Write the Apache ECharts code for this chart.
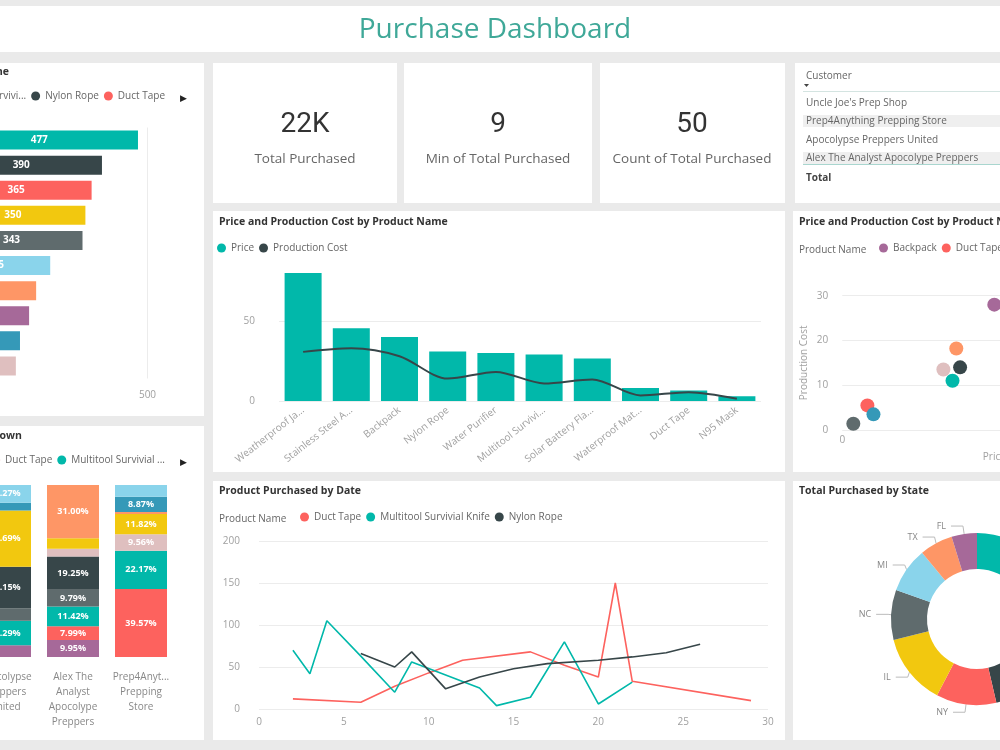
<!DOCTYPE html>
<html>
<head>
<meta charset="utf-8">
<title>Purchase Dashboard</title>
<script src="https://cdn.jsdelivr.net/npm/echarts@6/dist/echarts.min.js"></script>
<style>
  body { margin: 0; background: #eaeaea; }
  #wrap { position: relative; width: 1000px; height: 750px; overflow: hidden; background: #eaeaea; }
  .panel { position: absolute; background: #fff; }
  #chart { position: absolute; left: 0; top: 0; width: 1000px; height: 750px; }
</style>
</head>
<body>
<div id="wrap">
  <!-- tile backgrounds -->
  <div class="panel" style="left:0;top:6px;width:1000px;height:46px"></div>
  <div class="panel" style="left:0;top:63px;width:204px;height:353px"></div>
  <div class="panel" style="left:0;top:426px;width:204px;height:314px"></div>
  <div class="panel" style="left:213px;top:63px;width:184px;height:140px"></div>
  <div class="panel" style="left:404px;top:63px;width:188px;height:140px"></div>
  <div class="panel" style="left:600px;top:63px;width:185px;height:140px"></div>
  <div class="panel" style="left:795px;top:63px;width:205px;height:140px"></div>
  <div class="panel" style="left:213px;top:211px;width:572px;height:261px"></div>
  <div class="panel" style="left:213px;top:481px;width:572px;height:259px"></div>
  <div class="panel" style="left:793px;top:211px;width:207px;height:261px"></div>
  <div class="panel" style="left:793px;top:481px;width:207px;height:259px"></div>
  <div id="chart"></div>
</div>
<script>
// ---- data ----
// Total Purchased by Product Name (top to bottom)
const byProductNames = ['Multitool Survivial Knife', 'Nylon Rope', 'Duct Tape', 'Stainless Steel Axe', 'N95 Mask',
  'Weatherproof Jacket', 'Water Purifier', 'Backpack', 'Waterproof Matches', 'Solar Battery Flashlight'];
const byProductTotals = [477, 390, 365, 350, 343, 265, 231, 214, 192, 182];

// share of each product in a customer's purchases (%), rows follow stackProducts, columns follow customers
const customers = ["Uncle Joe's Prep Shop", 'Apocolypse Preppers United', 'Alex The Analyst Apocolype Preppers', 'Prep4Anything Prepping Store'];
const customerLabels = ["Uncle Joe's\nPrep Shop", 'Apocolypse\nPreppers\nUnited', 'Alex The\nAnalyst\nApocolype\nPreppers', 'Prep4Anyt...\nPrepping\nStore'];
const stackProducts = ['Backpack', 'Duct Tape', 'Multitool Survivial Knife', 'N95 Mask', 'Nylon Rope',
  'Solar Battery Flashlight', 'Stainless Steel Axe', 'Water Purifier', 'Waterproof Matches', 'Weatherproof Jacket'];
const sharePct = [
  [10.20, 6.83, 9.95, 0],
  [12.40, 0, 7.99, 39.57],
  [17.80, 14.29, 11.42, 22.17],
  [8.10, 7.21, 9.79, 0],
  [15.30, 24.15, 19.25, 0],
  [7.00, 0, 4.60, 9.56],
  [9.60, 32.69, 6.00, 11.82],
  [8.20, 0, 31.00, 1.21],
  [6.10, 4.56, 0, 8.87],
  [5.30, 10.27, 0, 6.80]
];

// Price and Production Cost by Product Name
const priceProducts = ['Weatherproof Jacket', 'Stainless Steel Axe', 'Backpack', 'Nylon Rope', 'Water Purifier',
  'Multitool Survivial Knife', 'Solar Battery Flashlight', 'Waterproof Matches', 'Duct Tape', 'N95 Mask'];
const priceLabels = ['Weatherproof Ja...', 'Stainless Steel A...', 'Backpack', 'Nylon Rope', 'Water Purifier',
  'Multitool Survivi...', 'Solar Battery Fla...', 'Waterproof Mat...', 'Duct Tape', 'N95 Mask'];
const price = [80, 45.5, 40, 31, 30, 29, 26.6, 8.2, 6.6, 2.9];
const productionCost = [30.7, 33, 28, 14, 18.2, 11, 13.5, 3.5, 5.5, 1.4];

// Product Purchased by Date  [day, quantity]
const ductTapeByDate = [[2, 12], [6, 8], [8, 27], [10, 43], [12, 58], [16, 68], [18, 52], [20, 38], [21, 150], [22, 33], [29, 10]];
const multitoolByDate = [[2, 70], [3, 42], [4, 105], [6, 63], [8, 20], [9, 56], [13, 25], [14, 4], [16, 14], [18, 80], [20, 6], [22, 32]];
const nylonRopeByDate = [[6, 66], [8, 50], [9, 68], [11, 24], [13, 38], [15, 48], [17, 54], [20, 58], [22, 62], [24, 67], [26, 77]];

// Total Purchased by State
const states = ['CA', 'OH', 'NY', 'IL', 'NC', 'MI', 'TX', 'FL'];
const stateTotals = [5630, 4580, 2490, 2950, 2070, 1870, 1375, 1050];

// cards and table
const kpiValues = ['22K', '9', '50'];
const kpiLabels = ['Total Purchased', 'Min of Total Purchased', 'Count of Total Purchased'];
const tableRows = ["Uncle Joe's Prep Shop", 'Prep4Anything Prepping Store', 'Apocolypse Preppers United', 'Alex The Analyst Apocolype Preppers'];

// ---- styles ----
const FONT = '"Open Sans", "Noto Sans", sans-serif';
const productColors = {
  'Backpack': '#A66999',
  'Duct Tape': '#FD625E',
  'Multitool Survivial Knife': '#01B8AA',
  'N95 Mask': '#5F6B6D',
  'Nylon Rope': '#374649',
  'Solar Battery Flashlight': '#DFBFBF',
  'Stainless Steel Axe': '#F2C80F',
  'Water Purifier': '#FE9666',
  'Waterproof Matches': '#3599B8',
  'Weatherproof Jacket': '#8AD4EB'
};
const stateColors = ['#01B8AA', '#374649', '#FD625E', '#F2C80F', '#5F6B6D', '#8AD4EB', '#FE9666', '#A66999'];
const labelGray = '#a0a0a0';
const splitGray = '#ececec';

const chart = echarts.init(document.getElementById('chart'));

const series = [];

// horizontal bars, one series per product so the legend can list them
byProductNames.forEach((name, i) => {
  series.push({
    name: name, type: 'bar', xAxisIndex: 0, yAxisIndex: 0, stack: 'byProduct',
    barWidth: 19,
    data: byProductTotals.map((v, j) => (j === i ? v : '-')),
    itemStyle: { color: productColors[name] },
    label: { show: true, position: 'inside', color: '#fff', fontSize: 10, fontWeight: 'bold' }
  });
});

// 100% stacked columns
stackProducts.forEach((name, i) => {
  series.push({
    name: name, type: 'bar', xAxisIndex: 1, yAxisIndex: 1, stack: 'share',
    barWidth: 52,
    data: sharePct[i],
    itemStyle: { color: productColors[name] },
    label: {
      show: true, position: 'inside', color: '#fff', fontSize: 9, fontWeight: 'bold',
      formatter: p => (p.value >= 7.5 ? p.value.toFixed(2) + '%' : '')
    }
  });
});

// price bars + production cost line
series.push({
  name: 'Price', type: 'bar', xAxisIndex: 2, yAxisIndex: 2, barWidth: 37,
  data: price, itemStyle: { color: '#01B8AA' }
});
series.push({
  name: 'Production Cost', type: 'line', xAxisIndex: 2, yAxisIndex: 2,
  data: productionCost, symbol: 'none', smooth: 0.3,
  lineStyle: { color: '#374649', width: 2 }, itemStyle: { color: '#374649' }
});

// purchases by date
[['Duct Tape', ductTapeByDate], ['Multitool Survivial Knife', multitoolByDate], ['Nylon Rope', nylonRopeByDate]]
  .forEach(([name, pts]) => {
    series.push({
      name: name, type: 'line', xAxisIndex: 3, yAxisIndex: 3, data: pts,
      symbol: 'none', lineStyle: { color: productColors[name], width: 1.6 },
      itemStyle: { color: productColors[name] }
    });
  });

// scatter price vs cost, one series per product
stackProducts.forEach(name => {
  const k = priceProducts.indexOf(name);
  series.push({
    name: name, type: 'scatter', xAxisIndex: 4, yAxisIndex: 4,
    symbolSize: 14, data: [[price[k], productionCost[k]]],
    itemStyle: { color: productColors[name], opacity: 1 }
  });
});

// donut by state
series.push({
  type: 'pie', name: 'Total Purchased by State',
  center: [977, 619], radius: [50, 86], startAngle: 90, clockwise: true,
  data: states.map((s, i) => ({ name: s, value: stateTotals[i], itemStyle: { color: stateColors[i] } })),
  label: { color: '#888', fontSize: 9, fontFamily: FONT },
  labelLine: { length: 8, length2: 12, lineStyle: { color: '#bbb', width: 1 } }
});

const hidden = { show: false };
const legendBase = {
  icon: 'circle', itemWidth: 9, itemHeight: 9, itemGap: 5, padding: 0, width: 1200,
  textStyle: { color: '#666', fontSize: 10, fontFamily: FONT }
};

const text = (x, y, str, font, fill, align) => ({
  type: 'text', x: x, y: y, silent: true,
  style: { text: str, font: font, fill: fill, align: align || 'left', textAlign: align || 'left',
    verticalAlign: 'middle', textVerticalAlign: 'middle' }
});
const titleFont = 'bold 10.5px ' + FONT;

const graphic = [
  text(495, 30, 'Purchase Dashboard', '28px ' + FONT, '#3fa898', 'center'),
  text(9, 72, 'Total Purchased by Product Name', titleFont, '#333', 'right'),
  text(22, 436, 'Product Breakdown', titleFont, '#333', 'right'),
  text(219, 222, 'Price and Production Cost by Product Name', titleFont, '#333'),
  text(219, 491, 'Product Purchased by Date', titleFont, '#333'),
  text(799, 222, 'Price and Production Cost by Product Name', titleFont, '#333'),
  text(799, 491, 'Total Purchased by State', titleFont, '#333'),
  text(219, 519, 'Product Name', '10px ' + FONT, '#666'),
  text(799, 250, 'Product Name', '10px ' + FONT, '#666'),
  text(183, 98, '\u25B6', '9px ' + FONT, '#222', 'center'),
  text(183, 462, '\u25B6', '9px ' + FONT, '#222', 'center'),
  // table
  { type: 'rect', shape: { x: 803, y: 115, width: 197, height: 12 }, style: { fill: '#efefef' }, silent: true },
  { type: 'rect', shape: { x: 803, y: 152, width: 197, height: 12 }, style: { fill: '#efefef' }, silent: true },
  { type: 'rect', shape: { x: 803, y: 91, width: 197, height: 1 }, style: { fill: '#d4e4e1' }, silent: true },
  { type: 'rect', shape: { x: 803, y: 164, width: 197, height: 1 }, style: { fill: '#a9d6cf' }, silent: true },
  text(806, 76, 'Customer', '10px ' + FONT, '#666'),
  { type: 'polygon', shape: { points: [[804, 84], [809, 84], [806.5, 87]] }, style: { fill: '#444' }, silent: true },
  text(806, 178, 'Total', 'bold 10px ' + FONT, '#444')
];
tableRows.forEach((r, i) => {
  graphic.push(text(806, [103, 121, 140, 158][i], r, '10px ' + FONT, '#666'));
});
[305, 498, 692].forEach((cx, i) => {
  graphic.push(text(cx, 125, kpiValues[i], '28px Roboto, ' + FONT, '#333', 'center'));
  graphic.push(text(cx, 159, kpiLabels[i], '13.5px ' + FONT, '#666', 'center'));
});

// grids are placed by hand, so keep ECharts from pulling them inside the canvas
const freeGrid = g => Object.assign({ containLabel: false, outerBoundsMode: 'none' }, g);

const option = {
  animation: false,
  backgroundColor: 'transparent',
  textStyle: { fontFamily: FONT },
  graphic: graphic,
  legend: [
    Object.assign({}, legendBase, {
      data: ['Multitool Survivial Knife', 'Nylon Rope', 'Duct Tape'], right: 835, top: 91,
      formatter: n => (n === 'Multitool Survivial Knife' ? 'Multitool Survivi...' : n)
    }),
    Object.assign({}, legendBase, {
      data: ['Backpack', 'Duct Tape', 'Multitool Survivial Knife'], right: 835, top: 455,
      formatter: n => (n === 'Multitool Survivial Knife' ? 'Multitool Survivial ...' : n)
    }),
    Object.assign({}, legendBase, { data: ['Price', 'Production Cost'], left: 217, top: 243 }),
    Object.assign({}, legendBase, { data: ['Duct Tape', 'Multitool Survivial Knife', 'Nylon Rope'], left: 300, top: 512 }),
    Object.assign({}, legendBase, { data: stackProducts, left: 879, top: 243 })
  ],
  grid: [
    freeGrid({ left: -59.5, top: 127.5, width: 207, height: 251 }),
    freeGrid({ left: -97, top: 485, width: 272, height: 172 }),
    freeGrid({ left: 279, top: 265, width: 482, height: 136 }),
    freeGrid({ left: 259, top: 541, width: 509, height: 168 }),
    freeGrid({ left: 842.3, top: 295.7, width: 304, height: 134.3 })
  ],
  xAxis: [
    {
      gridIndex: 0, type: 'value', min: 0, max: 500, interval: 500,
      axisLine: hidden, axisTick: hidden,
      axisLabel: { color: labelGray, fontSize: 10, margin: 12 },
      splitLine: { lineStyle: { color: splitGray } }
    },
    {
      gridIndex: 1, type: 'category', data: customers,
      axisLine: hidden, axisTick: hidden,
      axisLabel: { interval: 0, color: '#888', fontSize: 10, lineHeight: 15, margin: 13,
        formatter: (v, i) => customerLabels[i] }
    },
    {
      gridIndex: 2, type: 'category', data: priceProducts,
      axisLine: hidden, axisTick: hidden,
      axisLabel: { interval: 0, rotate: 38, color: labelGray, fontSize: 10, margin: 8,
        formatter: (v, i) => priceLabels[i] }
    },
    {
      gridIndex: 3, type: 'value', min: 0, max: 30, interval: 5,
      axisLine: hidden, axisTick: hidden, splitLine: hidden,
      axisLabel: { color: labelGray, fontSize: 10, margin: 8 }
    },
    {
      gridIndex: 4, type: 'value', min: 0, max: 80, interval: 80,
      axisLine: hidden, axisTick: hidden, splitLine: hidden,
      axisLabel: { color: labelGray, fontSize: 10, margin: 5 },
      name: 'Price', nameLocation: 'middle', nameGap: 22,
      nameTextStyle: { color: labelGray, fontSize: 10 }
    }
  ],
  yAxis: [
    { gridIndex: 0, type: 'category', data: byProductNames, inverse: true, show: false },
    { gridIndex: 1, type: 'value', min: 0, max: 100, show: false },
    {
      gridIndex: 2, type: 'value', min: 0, max: 85,
      axisLine: hidden,
      axisTick: { show: false, customValues: [0, 50] },
      axisLabel: { color: labelGray, fontSize: 10, margin: 24, customValues: [0, 50] },
      splitLine: { lineStyle: { color: splitGray } }
    },
    {
      gridIndex: 3, type: 'value', min: 0, max: 200, interval: 50,
      axisLine: hidden, axisTick: hidden,
      axisLabel: { color: labelGray, fontSize: 10, margin: 19 },
      splitLine: { lineStyle: { color: splitGray } }
    },
    {
      gridIndex: 4, type: 'value', min: 0, max: 30, interval: 10,
      axisLine: hidden, axisTick: hidden,
      axisLabel: { color: labelGray, fontSize: 10, margin: 14 },
      splitLine: { lineStyle: { color: splitGray } },
      name: 'Production Cost', nameLocation: 'middle', nameGap: 33,
      nameTextStyle: { color: labelGray, fontSize: 10 }
    }
  ],
  series: series
};

chart.setOption(option);
</script>
</body>
</html>
